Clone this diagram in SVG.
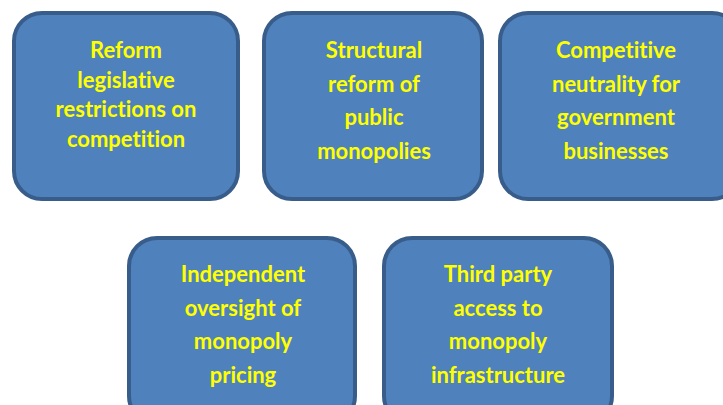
<svg xmlns="http://www.w3.org/2000/svg" width="723" height="405" viewBox="0 0 723 405">
  <style>
    .box { fill: #4f81bd; stroke: #385d8a; stroke-width: 4; }
    .lbl { font-family: Lato, "Open Sans", "Liberation Sans", sans-serif; font-weight: bold; font-size: 22px; fill: #ffff00; text-anchor: middle; font-variant-ligatures: none; }
  </style>
  <rect width="723" height="405" fill="#ffffff"/>
  <g id="reform-legislative">
    <rect class="box" x="14" y="13" width="224" height="186" rx="28"/>
    <text class="lbl" x="126" y="58">Reform</text>
    <text class="lbl" x="126" y="87.5">legislative</text>
    <text class="lbl" x="126" y="117">restrictions on</text>
    <text class="lbl" x="126" y="146.5">competition</text>
  </g>
  <g id="structural-reform">
    <rect class="box" x="264" y="13" width="218" height="186" rx="28"/>
    <text class="lbl" x="374" y="58">Structural</text>
    <text class="lbl" x="374" y="91.5">reform of</text>
    <text class="lbl" x="374" y="125">public</text>
    <text class="lbl" x="374" y="158.5">monopolies</text>
  </g>
  <g id="competitive-neutrality">
    <rect class="box" x="500" y="13" width="240" height="186" rx="28"/>
    <text class="lbl" x="616" y="58">Competitive</text>
    <text class="lbl" x="616" y="91.5">neutrality for</text>
    <text class="lbl" x="616" y="125">government</text>
    <text class="lbl" x="616" y="158.5">businesses</text>
  </g>
  <g id="independent-oversight">
    <rect class="box" x="129" y="238" width="226" height="186" rx="28"/>
    <text class="lbl" x="243" y="282">Independent</text>
    <text class="lbl" x="243" y="315.5">oversight of</text>
    <text class="lbl" x="243" y="349">monopoly</text>
    <text class="lbl" x="243" y="382.5">pricing</text>
  </g>
  <g id="third-party-access">
    <rect class="box" x="384" y="238" width="228" height="186" rx="28"/>
    <text class="lbl" x="498" y="282">Third party</text>
    <text class="lbl" x="498" y="315.5">access to</text>
    <text class="lbl" x="498" y="349">monopoly</text>
    <text class="lbl" x="498" y="382.5">infrastructure</text>
  </g>
  <g id="connectors"/>
</svg>
